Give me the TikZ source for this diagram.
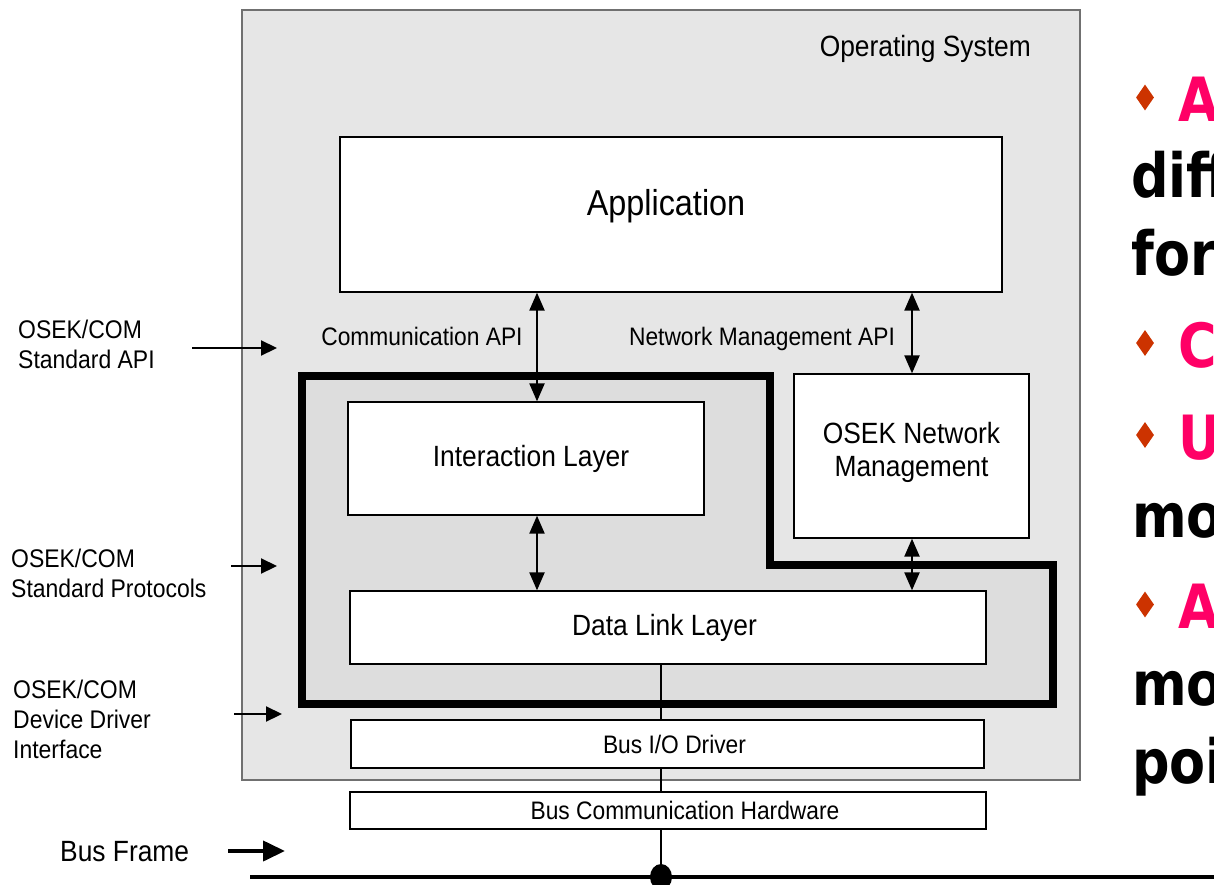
\documentclass[tikz,border=0pt]{standalone}
\usepackage{fontspec}
\setmainfont{Liberation Sans}[FakeStretch=0.9]
\newfontfamily\slidefont{DejaVu Sans}[FakeStretch=0.86]
\usetikzlibrary{arrows.meta,shapes.geometric}
\definecolor{osgray}{HTML}{E6E6E6}
\definecolor{ingray}{HTML}{DDDDDD}
\definecolor{osedge}{HTML}{707070}
\definecolor{bulletred}{HTML}{CC3300}
\definecolor{hotpink}{HTML}{FF0066}
\tikzset{
  osbox/.style={draw=osedge, line width=1.3pt, fill=osgray, inner sep=0pt},
  layerbox/.style={draw=black, line width=1.3pt, fill=white, inner sep=0pt, align=center,
     font=\fontsize{29.3}{33}\selectfont},
  smalltxt/.style={inner sep=0pt, font=\fontsize{25.3}{29}\selectfont},
  midtxt/.style={inner sep=0pt, font=\fontsize{29.3}{33}\selectfont},
  sidetxt/.style={inner sep=0pt, align=left, anchor=north west, font=\fontsize{25.5}{30}\selectfont},
  dblarrow/.style={{Triangle[width=15pt,length=18pt]}-{Triangle[width=15pt,length=18pt]}, line width=2.2pt},
  inarrow/.style={-{Triangle[width=15pt,length=16pt]}, line width=2.2pt},
  busarrow/.style={-{Triangle[width=20pt,length=22pt]}, line width=4pt},
  slidetxt/.style={inner sep=0pt, anchor=base west, font=\slidefont\bfseries\fontsize{61}{70}\selectfont},
  bulletmark/.style={diamond, fill=bulletred, draw=none, inner sep=0pt, minimum width=18pt, minimum height=26pt}
}
\begin{document}
\begin{tikzpicture}[x=1pt,y=-1pt]
\useasboundingbox (0,0) rectangle (1214,885);
\clip (0,0) rectangle (1214,885);

% Operating system frame
\node[osbox, minimum width=838pt, minimum height=770pt] (os) at (661,395) {};
\node[midtxt, anchor=base east] (ostxt) at (1031,57) {Operating System};

% OSEK/COM region (thick outline)
\draw[line width=7.5pt, fill=ingray, line join=miter]
  (302,376) -- (770,376) -- (770,565) -- (1053,565) -- (1053,704) -- (302,704) -- cycle;

% helper coordinates
\coordinate (comx) at (537,0);
\coordinate (nmx) at (912,0);
\coordinate (tap) at (661,877);

% Boxes
\node[layerbox, minimum width=662pt, minimum height=155pt,
      label={[name=applbl, midtxt, font=\fontsize{36}{40}\selectfont, yshift=8pt, xshift=-5pt]center:Application}] (app) at (671,214.5) {};
\node[layerbox, minimum width=356pt, minimum height=113pt] (il) at (526,458.5) {\hspace*{10pt}Interaction Layer};
\node[layerbox, minimum width=235pt, minimum height=164pt,
      label={[name=nmlbltxt, midtxt, align=center, yshift=4pt]center:OSEK Network\\Management}] (nm) at (911.5,456) {};
\draw[line width=1.2pt] (tap |- 0,664) -- (tap);
\node[layerbox, minimum width=636pt, minimum height=73pt] (dll) at (668,627.5) {Data Link Layer\hspace*{7pt}};
\node[layerbox, font=\fontsize{25.3}{29}\selectfont, minimum width=633pt, minimum height=48pt] (bio) at (667.5,744) {\hspace*{14pt}Bus I/O Driver};
\node[layerbox, minimum width=636pt, minimum height=37pt,
      label={[name=bchlbl, smalltxt, xshift=17pt]center:Bus Communication Hardware}] (bch) at (668,810.5) {};

% interface arrows
\draw[dblarrow] (app.south -| comx) -- (il.north -| comx);
\draw[dblarrow] (app.south -| nmx) -- (nm.north -| nmx);
\draw[dblarrow] (il.south -| comx) -- (dll.north -| comx);
\draw[dblarrow] (nm.south -| nmx) -- (dll.north -| nmx);

\node[smalltxt, anchor=base] (comlbl) at (422,345) {Communication API};
\node[smalltxt, anchor=base] (nmlbl) at (762,345) {Network Management API};

% side labels
\node[sidetxt] (l1) at (18,320) {OSEK/COM\\Standard API};
\node[sidetxt] (l2) at (11,549) {OSEK/COM\\Standard Protocols};
\node[sidetxt] (l3) at (13,680) {OSEK/COM\\Device Driver\\Interface};
\node[midtxt, anchor=base west] (l4) at (60,861) {Bus Frame};

\coordinate (a1s) at (192,348); \coordinate (a1e) at (277,348);
\coordinate (a2s) at (231,566); \coordinate (a2e) at (277,566);
\coordinate (a3s) at (234,714); \coordinate (a3e) at (282,714);
\coordinate (a4s) at (228,851); \coordinate (a4e) at (285,851);
\draw[inarrow] (a1s) -- (a1e);
\draw[inarrow] (a2s) -- (a2e);
\draw[inarrow] (a3s) -- (a3e);
\draw[busarrow] (a4s) -- (a4e);

% bus
\coordinate (busL) at (250,877);
\coordinate (busR) at (1214,877);
\draw[line width=4pt] (busL) -- (busR);
\node[ellipse, fill=black, inner sep=0pt, minimum width=22pt, minimum height=26pt] (tapdot) at (tap) {};

% cropped slide text on the right (cut by the picture edge, as in the source)
\node[bulletmark] (b1) at (1145,97.5) {};
\node[slidetxt, text=hotpink] (r1) at (1178,122) {A};
\node[slidetxt] (r2) at (1131,198) {diff};
\node[slidetxt] (r3) at (1131,275) {for};
\node[bulletmark] (b2) at (1145,343) {};
\node[slidetxt, text=hotpink] (r4) at (1178,367) {C};
\node[bulletmark] (b3) at (1145,435) {};
\node[slidetxt, text=hotpink] (r5) at (1178,459) {U};
\node[slidetxt] (r6) at (1132,537) {mo};
\node[bulletmark] (b4) at (1145,604.5) {};
\node[slidetxt, text=hotpink] (r7) at (1178,628) {A};
\node[slidetxt] (r8) at (1132,705) {mo};
\node[slidetxt] (r9) at (1132,783) {poi};
\end{tikzpicture}
\end{document}
